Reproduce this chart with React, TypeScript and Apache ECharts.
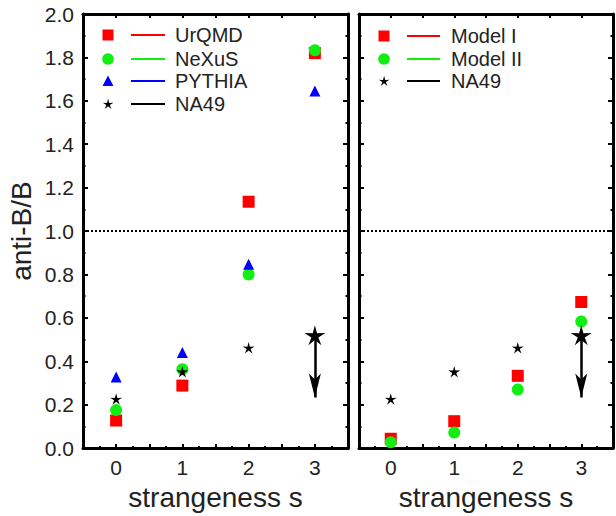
import React, { useEffect, useRef } from "react";
import * as echarts from "echarts";

const strangeness = [0, 1, 2, 3];
const urqmd = [0.127, 0.288, 1.135, 1.82];
const nexus = [0.175, 0.363, 0.8, 1.833];
const pythia = [0.328, 0.44, 0.847, 1.645];
const na49 = [0.226, 0.352, 0.462, 0.52]; // last point is an upper limit
const na49LimitTo = 0.233;
const modelI = [0.043, 0.124, 0.333, 0.673];
const modelII = [0.027, 0.072, 0.27, 0.583];
const yTicks = [0, 0.2, 0.4, 0.6, 0.8, 1.0, 1.2, 1.4, 1.6, 1.8, 2.0];
const leftLegend = ["UrQMD", "NeXuS", "PYTHIA", "NA49"];
const rightLegend = ["Model I", "Model II", "NA49"];

const RED = "#ff0000";
const GREEN = "#11ee11";
const BLUE = "#0000ff";
const FONT = "Liberation Sans, Arial, sans-serif";

const STAR_PATH =
  "path://M10 0 L11.94 7.33 L19.51 6.91 L13.14 11.02 L15.88 18.09 L10 13.3 L4.12 18.09 L6.86 11.02 L0.49 6.91 L8.06 7.33 Z";
const STAR_PTS = [
  [10, 0], [11.94, 7.33], [19.51, 6.91], [13.14, 11.02], [15.88, 18.09],
  [10, 13.3], [4.12, 18.09], [6.86, 11.02], [0.49, 6.91], [8.06, 7.33],
];

const pts = (arr: number[]) => arr.map((v, i) => [strangeness[i], v]);

export default function App() {
  const ref = useRef<HTMLDivElement>(null);
  useEffect(() => {
    if (!ref.current) return;
    const chart = echarts.init(ref.current, null, { renderer: "svg" });

    const axisLine = { show: true, onZero: false, lineStyle: { color: "#000", width: 3 } };
    const tick = (len: number) => ({ show: true, inside: true, length: len, lineStyle: { color: "#000", width: 2 } });
    const minor = (len: number) => ({ show: true, splitNumber: 2, length: len, lineStyle: { color: "#000", width: 2 } });

    const xAxisFor = (gridIndex: number, pos: string, labels: boolean) => ({
      gridIndex,
      type: "value",
      position: pos,
      min: -0.5,
      max: 3.5,
      interval: 0.5,
      axisLine,
      axisTick: tick(4),
      minorTick: minor(2),
      splitLine: { show: false },
      axisLabel: {
        show: labels,
        formatter: (v: number) => (Number.isInteger(v) ? String(v) : ""),
        fontSize: 21,
        color: "#222",
        margin: 9,
        fontFamily: FONT,
      },
      name: labels ? "strangeness s" : "",
      nameLocation: "middle",
      nameGap: 29,
      nameTextStyle: { fontSize: 28, color: "#222", fontFamily: FONT },
    });
    const yAxisFor = (gridIndex: number, pos: string, labels: boolean, title: boolean) => ({
      gridIndex,
      type: "value",
      position: pos,
      min: yTicks[0],
      max: yTicks[yTicks.length - 1],
      interval: 0.2,
      axisLine,
      axisTick: tick(5),
      minorTick: minor(2.5),
      splitLine: { show: false },
      axisLabel: {
        show: labels,
        formatter: (v: number) => v.toFixed(1),
        fontSize: 21,
        color: "#222",
        margin: 9,
        fontFamily: FONT,
      },
      name: title ? "anti-B/B" : "",
      nameLocation: "middle",
      nameGap: 48,
      nameTextStyle: { fontSize: 28, color: "#222", fontFamily: FONT },
    });

    const dotted = {
      silent: true,
      symbol: "none",
      label: { show: false },
      lineStyle: { type: [2, 2], width: 2, color: "#000" },
      data: [{ yAxis: 1 }],
    };
    const arrow = {
      silent: true,
      symbol: ["none", "arrow"],
      symbolSize: [9, 24],
      label: { show: false },
      lineStyle: { type: "solid", width: 2.5, color: "#000" },
      data: [[{ coord: [3, na49[3]] }, { coord: [3, na49LimitTo] }]],
    };
    const na49Data = pts(na49).map((p, i) =>
      i === 3 ? { value: p, symbolSize: 21 } : { value: p }
    );

    const scatter = (name: string, data: any, x: number, y: number, symbol: string, size: number, color: string, extra: any = {}) => ({
      type: "scatter",
      name,
      xAxisIndex: x,
      yAxisIndex: y,
      data,
      symbol,
      symbolSize: size,
      symbolKeepAspect: true,
      itemStyle: { color, opacity: 1 },
      ...extra,
    });

    const legend = (labels: string[], markers: string[], colors: string[], mx: number, lx0: number, lx1: number, tx: number, ys: number[]) => {
      const els: any[] = [];
      labels.forEach((label, i) => {
        const y = ys[i];
        const c = colors[i];
        const m = markers[i];
        if (m === "square") els.push({ type: "rect", shape: { x: mx - 5.5, y: y - 5.5, width: 11, height: 11 }, style: { fill: c } });
        if (m === "circle") els.push({ type: "circle", shape: { cx: mx, cy: y, r: 5.8 }, style: { fill: c } });
        if (m === "triangle") els.push({ type: "polygon", shape: { points: [[mx, y - 5.5], [mx + 5.5, y + 5], [mx - 5.5, y + 5]] }, style: { fill: c } });
        if (m === "star") els.push({ type: "polygon", shape: { points: STAR_PTS.map(([a, b]) => [mx - 5.5 + a * 0.56, y - 5.2 + b * 0.56]) }, style: { fill: c } });
        els.push({ type: "line", shape: { x1: lx0, y1: y, x2: lx1, y2: y }, style: { stroke: c, lineWidth: 2.2 } });
        els.push({ type: "text", x: tx, y, style: { text: label, fontSize: 20, fill: "#222", fontFamily: FONT, verticalAlign: "middle", align: "left" } });
      });
      return els;
    };

    chart.setOption({
      animation: false,
      grid: [
        { left: 83, top: 14, width: 265, bottom: 65 },
        { left: 359, top: 14, width: 264, bottom: 65 },
      ],
      xAxis: [xAxisFor(0, "bottom", true), xAxisFor(0, "top", false), xAxisFor(1, "bottom", true), xAxisFor(1, "top", false)],
      yAxis: [yAxisFor(0, "left", true, true), yAxisFor(0, "right", false, false), yAxisFor(1, "left", false, false), yAxisFor(1, "right", false, false)],
      series: [
        scatter("UrQMD", pts(urqmd), 0, 0, "rect", 12, RED, { markLine: dotted }),
        scatter("NeXuS", pts(nexus), 0, 0, "circle", 12, GREEN),
        scatter("PYTHIA", pts(pythia), 0, 0, "triangle", 11, BLUE),
        scatter("NA49", na49Data, 0, 0, STAR_PATH, 12, "#000", { markLine: arrow }),
        scatter("Model I", pts(modelI), 2, 2, "rect", 12, RED, { markLine: dotted }),
        scatter("Model II", pts(modelII), 2, 2, "circle", 12, GREEN),
        scatter("NA49 ", na49Data, 2, 2, STAR_PATH, 12, "#000", { markLine: arrow }),
      ],
      graphic: [
        ...legend(leftLegend, ["square", "circle", "triangle", "star"], [RED, GREEN, BLUE, "#000"], 108, 131, 165, 175, [35, 59, 81, 104]),
        ...legend(rightLegend, ["square", "circle", "star"], [RED, GREEN, "#000"], 384, 407, 440, 451, [36, 59, 81]),
      ],
    });
    return () => chart.dispose();
  }, []);
  return (
    <div style={{ position: "absolute", left: 0, top: 0, width: 616, height: 516, overflow: "hidden", background: "#fff" }}>
      <div ref={ref} style={{ width: 616, height: 516 }} />
    </div>
  );
}
